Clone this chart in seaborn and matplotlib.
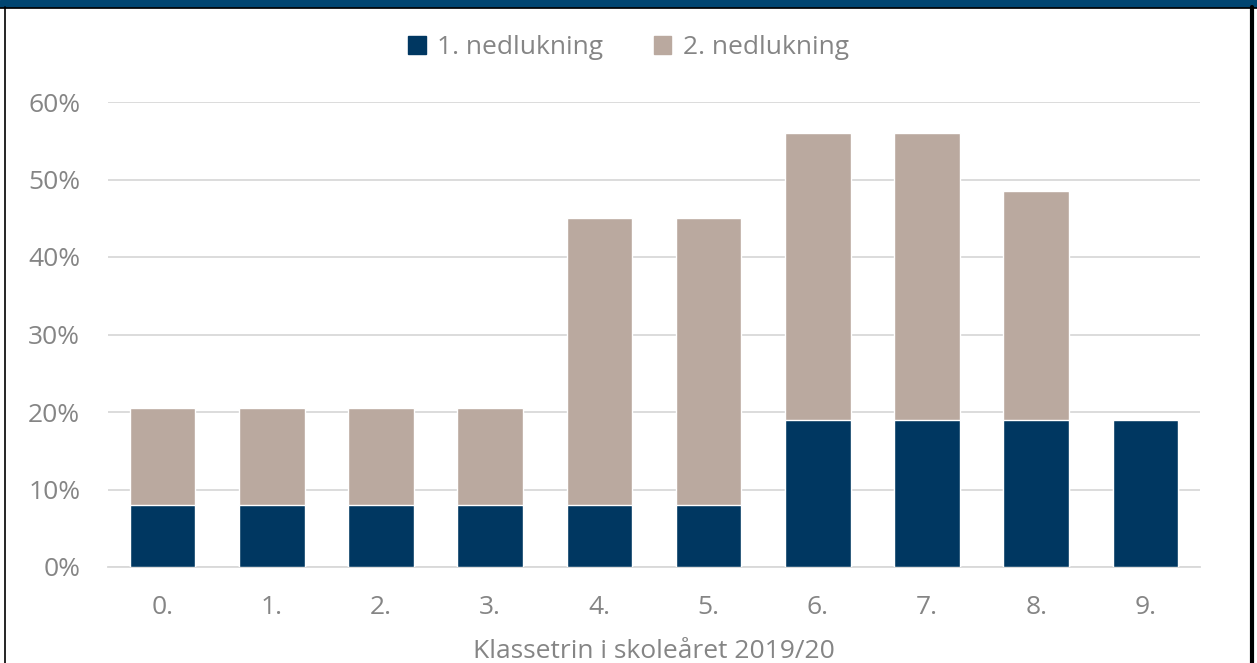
import matplotlib
matplotlib.use("Agg")
import matplotlib.pyplot as plt
import seaborn as sns
import pandas as pd
from matplotlib.patches import Rectangle
from matplotlib.lines import Line2D

categories = ["0.", "1.", "2.", "3.", "4.", "5.", "6.", "7.", "8.", "9."]
first_lockdown = [8, 8, 8, 8, 8, 8, 19, 19, 19, 19]
second_lockdown = [12.5, 12.5, 12.5, 12.5, 37, 37, 37, 37, 29.5, 0]
series_names = ["1. nedlukning", "2. nedlukning"]
yticks = [0, 10, 20, 30, 40, 50, 60]
xlabel = "Klassetrin i skoleåret 2019/20"

navy = "#003761"
beige = "#BAA99F"
grey_text = "#858585"

sns.set_theme(style="white")
plt.rcParams['font.family'] = ['Open Sans', 'DejaVu Sans']

df = pd.DataFrame({
    "klasse": categories,
    "first": first_lockdown,
    "total": [a + b for a, b in zip(first_lockdown, second_lockdown)],
})

fig = plt.figure(figsize=(12.57, 6.63), dpi=100)
ax = fig.add_axes([108/1257, 1-567/663, (1200-108)/1257, (567-102)/663])

sns.barplot(data=df, x="klasse", y="total", color=beige, width=0.6, ax=ax,
            saturation=1, zorder=3)
sns.barplot(data=df, x="klasse", y="first", color=navy, width=0.6, ax=ax,
            saturation=1, zorder=3)

ax.set_ylim(0, 60)
ax.set_xlim(-0.5, len(categories) - 0.5)
ax.set_yticks(yticks)
ax.set_yticklabels([f"{v}%" for v in yticks])
ax.yaxis.grid(True, color="#D9D9D9", linewidth=1.3, zorder=0)
ax.set_axisbelow(True)
for s in ["top", "right", "left"]:
    ax.spines[s].set_visible(False)
ax.spines["bottom"].set_color("#D9D9D9")
ax.spines["bottom"].set_linewidth(1.3)
ax.tick_params(axis="both", length=0, labelsize=19, labelcolor=grey_text)
ax.tick_params(axis="y", pad=20)
ax.tick_params(axis="x", pad=20)
ax.set_ylabel("")
ax.set_xlabel(xlabel, fontsize=19, color=grey_text, labelpad=14)

handles = [Rectangle((0, 0), 1, 1, color=navy), Rectangle((0, 0), 1, 1, color=beige)]
fig.legend(handles, series_names, loc="center", bbox_to_anchor=(0.5, 1-48/663),
           ncol=2, frameon=False, fontsize=19, labelcolor=grey_text,
           handlelength=0.65, handleheight=0.65, handletextpad=0.45, columnspacing=1.9)

# frame decorations
fig.patches.append(Rectangle((0, 1-7/663), 1, 7/663, transform=fig.transFigure,
                             color="#004571", zorder=10))
fig.lines.append(Line2D([0, 1], [1-7.5/663, 1-7.5/663], transform=fig.transFigure,
                        color="black", linewidth=1.2, zorder=11))
fig.lines.append(Line2D([4.5/1257, 4.5/1257], [0, 1-7/663], transform=fig.transFigure,
                        color="black", linewidth=1.2, zorder=11))
fig.lines.append(Line2D([1252/1257, 1252/1257], [0, 1-7/663], transform=fig.transFigure,
                        color="black", linewidth=3, zorder=11))

fig.savefig("out.png", dpi=100, facecolor="white")
